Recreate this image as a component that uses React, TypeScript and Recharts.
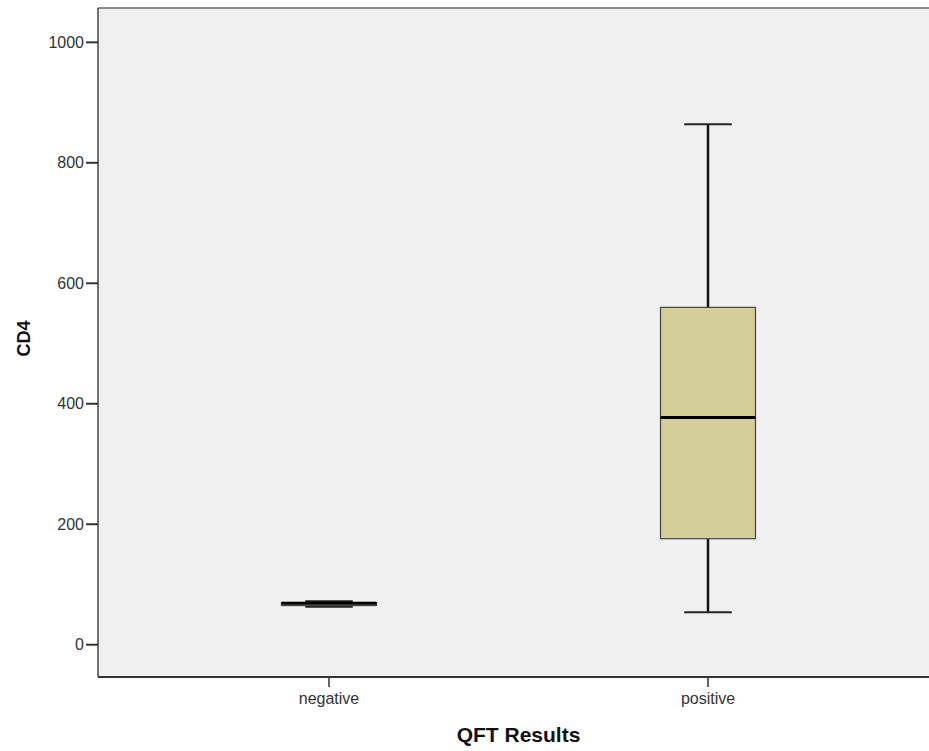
import React from 'react';
import { ComposedChart, Bar, XAxis, YAxis, CartesianGrid, Label, ReferenceLine } from 'recharts';

const categories = ['negative', 'positive'];
const mins = [63, 54];
const q1s = [65, 176];
const medians = [69, 377];
const q3s = [70, 560];
const maxs = [72, 864];
const yTicks = [0, 200, 400, 600, 800, 1000];
const yDomainTop = 1057;
const yDomainBottom = -53.6;

const data = categories.map((c, i) => ({
  name: c,
  range: [mins[i], maxs[i]],
  min: mins[i],
  q1: q1s[i],
  median: medians[i],
  q3: q3s[i],
  max: maxs[i],
}));

const FONT = '"Liberation Sans", Arial, sans-serif';

const BoxShape = (props: any) => {
  const { x, y, width, height, payload } = props;
  const span = payload.max - payload.min;
  const k = span > 0 ? height / span : 0;
  const py = (v: number) => y + (payload.max - v) * k;
  const cx = x + width / 2;
  const capHalf = width / 4;
  const yMax = py(payload.max);
  const yMin = py(payload.min);
  const yQ1 = py(payload.q1);
  const yQ3 = py(payload.q3);
  const yMed = py(payload.median);
  return (
    <g>
      <line x1={cx} x2={cx} y1={yMax} y2={yQ3} stroke="#111" strokeWidth={2.5} />
      <line x1={cx} x2={cx} y1={yQ1} y2={yMin} stroke="#111" strokeWidth={2.5} />
      <line x1={cx - capHalf} x2={cx + capHalf} y1={yMax} y2={yMax} stroke="#222" strokeWidth={2} />
      <line x1={cx - capHalf} x2={cx + capHalf} y1={yMin} y2={yMin} stroke="#222" strokeWidth={2} />
      <rect x={x} y={yQ3} width={width} height={Math.max(yQ1 - yQ3, 0)} fill="#d4cf98" stroke="#444" strokeWidth={1.2} />
      <line x1={x} x2={x + width} y1={yMed} y2={yMed} stroke="#000" strokeWidth={3} />
    </g>
  );
};

export default function App() {
  return (
    <div style={{ position: 'absolute', left: 0, top: 0, background: '#fff' }}>
      <ComposedChart
        width={929}
        height={751}
        data={data}
        margin={{ top: 8, right: 0, bottom: 0, left: 0 }}
      >
        <CartesianGrid fill="#f0f0f0" stroke="none" horizontal={false} vertical={false} />
        <XAxis
          dataKey="name"
          type="category"
          height={74}
          padding={{ left: 41.5, right: 31.5 }}
          tickSize={10}
          tickMargin={6}
          axisLine={{ stroke: '#333', strokeWidth: 2 }}
          tickLine={{ stroke: '#333', strokeWidth: 1.5 }}
          tick={{ fill: '#333', fontSize: 16, fontFamily: FONT }}
        >
          <Label
            value="QFT Results"
            position="insideBottom"
            offset={9}
            dx={5}
            style={{ fontSize: 21, fontWeight: 'bold', fill: '#111', fontFamily: FONT }}
          />
        </XAxis>
        <YAxis
          type="number"
          width={98}
          domain={[yDomainBottom, yDomainTop]}
          ticks={yTicks}
          allowDataOverflow
          tickSize={12}
          tickMargin={2}
          axisLine={{ stroke: '#444', strokeWidth: 1.5 }}
          tickLine={{ stroke: '#333', strokeWidth: 2 }}
          tick={{ fill: '#333', fontSize: 16, fontFamily: FONT }}
        >
          <Label
            content={(p: any) => {
              const vb = p.viewBox || {};
              const cy = (vb.y || 0) + (vb.height || 0) / 2 - 4;
              const lx = 30;
              return (
                <text
                  x={lx}
                  y={cy}
                  transform={`rotate(-90, ${lx}, ${cy})`}
                  textAnchor="middle"
                  style={{ fontSize: 18, fontWeight: 'bold', fill: '#111', fontFamily: FONT }}
                >
                  CD4
                </text>
              );
            }}
          />
        </YAxis>
        <ReferenceLine y={yDomainTop} stroke="#8a8a8a" strokeWidth={2} ifOverflow="visible" />
        <Bar dataKey="range" barSize={95} shape={BoxShape} isAnimationActive={false} />
      </ComposedChart>
    </div>
  );
}
